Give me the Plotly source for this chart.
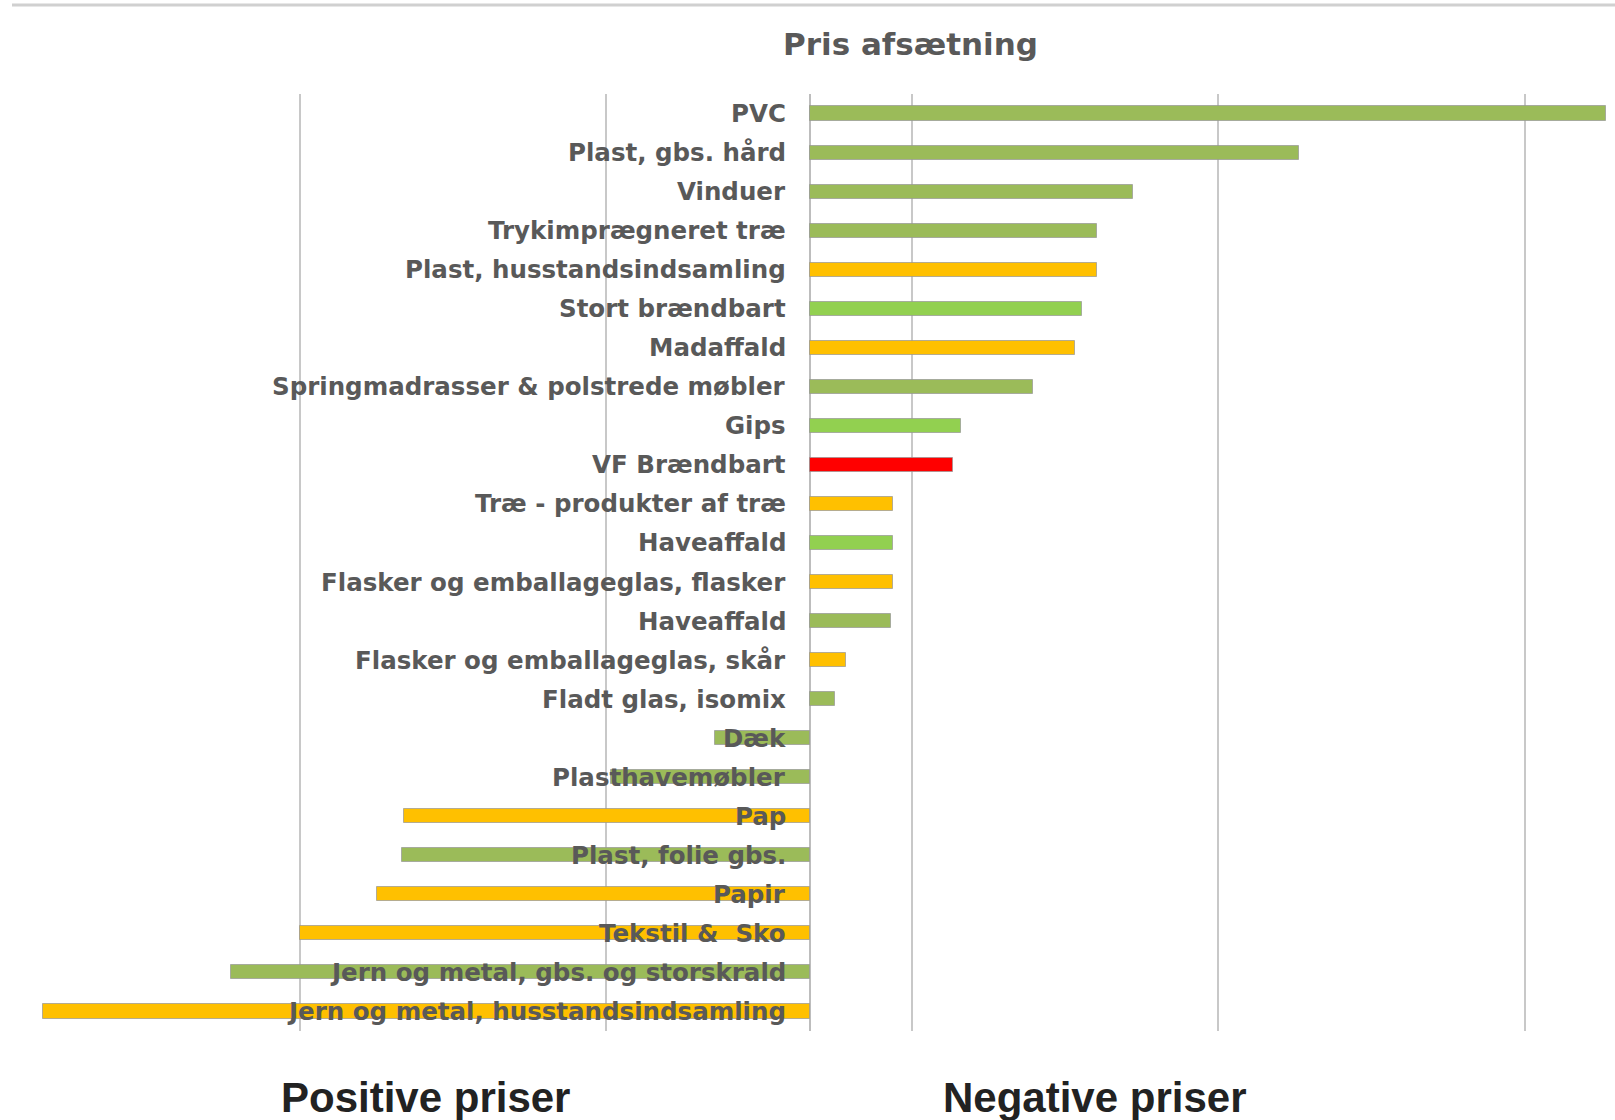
import plotly.graph_objects as go

categories = [
    "PVC", "Plast, gbs. hård", "Vinduer", "Trykimprægneret træ",
    "Plast, husstandsindsamling", "Stort brændbart", "Madaffald",
    "Springmadrasser & polstrede møbler", "Gips", "VF Brændbart",
    "Træ - produkter af træ", "Haveaffald", "Flasker og emballageglas, flasker",
    "Haveaffald", "Flasker og emballageglas, skår", "Fladt glas, isomix",
    "Dæk", "Plasthavemøbler", "Pap", "Plast, folie gbs.", "Papir",
    "Tekstil &  Sko", "Jern og metal, gbs. og storskrald",
    "Jern og metal, husstandsindsamling",
]
values = [780, 479, 316, 281, 281, 266, 260, 218, 148, 140,
          81, 81, 81, 79, 35, 24,
          -93, -195, -398, -400, -424, -500, -567, -751]
color_keys = ["olive", "olive", "olive", "olive", "yellow", "lgreen", "yellow",
              "olive", "lgreen", "red", "yellow", "lgreen", "yellow", "olive",
              "yellow", "olive", "olive", "olive", "yellow", "olive", "yellow",
              "yellow", "olive", "yellow"]
palette = {"olive": "#9BBB59", "yellow": "#FFC000", "lgreen": "#92D050", "red": "#FF0000"}

title_text = "Pris afsætning"
left_label = "Positive priser"
right_label = "Negative priser"

W, H = 1615, 1120
ml, mr, mt, mb = 4, 4, 94, 89
plot_w = W - ml - mr
plot_h = H - mt - mb
zero_px = 810
px_per_unit = 1.0208
x_min = -(zero_px - ml) / px_per_unit
x_max = x_min + plot_w / px_per_unit

ypos = list(range(len(categories)))

fig = go.Figure()
fig.add_trace(go.Bar(
    x=values, y=ypos, orientation="h", width=0.36,
    marker=dict(color=[palette[k] for k in color_keys],
                line=dict(color="rgba(150,150,150,0.7)", width=1)),
    hoverinfo="skip", showlegend=False,
))

annotations = []
for i, c in enumerate(categories):
    annotations.append(dict(
        x=0, y=i, xref="x", yref="y", xanchor="right", yanchor="middle",
        xshift=-22, text="<b>" + c + "</b>", showarrow=False,
        font=dict(family="DejaVu Sans", size=24.5, color="#595959"),
    ))

def px_x(px):
    return (px - ml) / plot_w

def px_y(py):
    return (H - mb - py) / plot_h

annotations.append(dict(
    x=px_x(910), y=px_y(44), xref="paper", yref="paper",
    xanchor="center", yanchor="middle", showarrow=False,
    text="<b>" + title_text + "</b>",
    font=dict(family="DejaVu Sans", size=31, color="#595959"),
))
annotations.append(dict(
    x=px_x(425), y=px_y(1097), xref="paper", yref="paper",
    xanchor="center", yanchor="middle", showarrow=False,
    text="<b>" + left_label + "</b>",
    font=dict(family="Liberation Sans", size=42, color="#222222"),
))
annotations.append(dict(
    x=px_x(1094), y=px_y(1097), xref="paper", yref="paper",
    xanchor="center", yanchor="middle", showarrow=False,
    text="<b>" + right_label + "</b>",
    font=dict(family="Liberation Sans", size=42, color="#222222"),
))

fig.add_shape(type="line", xref="paper", yref="paper",
              x0=px_x(12), x1=px_x(1615), y0=px_y(5), y1=px_y(5),
              line=dict(color="#d0d0d0", width=3))

fig.update_layout(
    width=W, height=H,
    margin=dict(l=ml, r=mr, t=mt, b=mb, pad=0),
    paper_bgcolor="white", plot_bgcolor="white",
    annotations=annotations,
    bargap=0,
    xaxis=dict(range=[x_min, x_max], tick0=100, dtick=300,
               showticklabels=False, ticks="",
               showgrid=True, gridcolor="#c8c8c8", gridwidth=2,
               zeroline=True, zerolinecolor="#bdbdbd", zerolinewidth=2,
               showline=False, fixedrange=True),
    yaxis=dict(range=[len(categories) - 0.5, -0.5], showticklabels=False,
               ticks="", showgrid=False, zeroline=False, showline=False,
               fixedrange=True),
)

fig.write_html(
    "out.html",
    config={"displayModeBar": False},
    post_script="document.body.style.margin='0';document.body.style.overflow='hidden';",
)
